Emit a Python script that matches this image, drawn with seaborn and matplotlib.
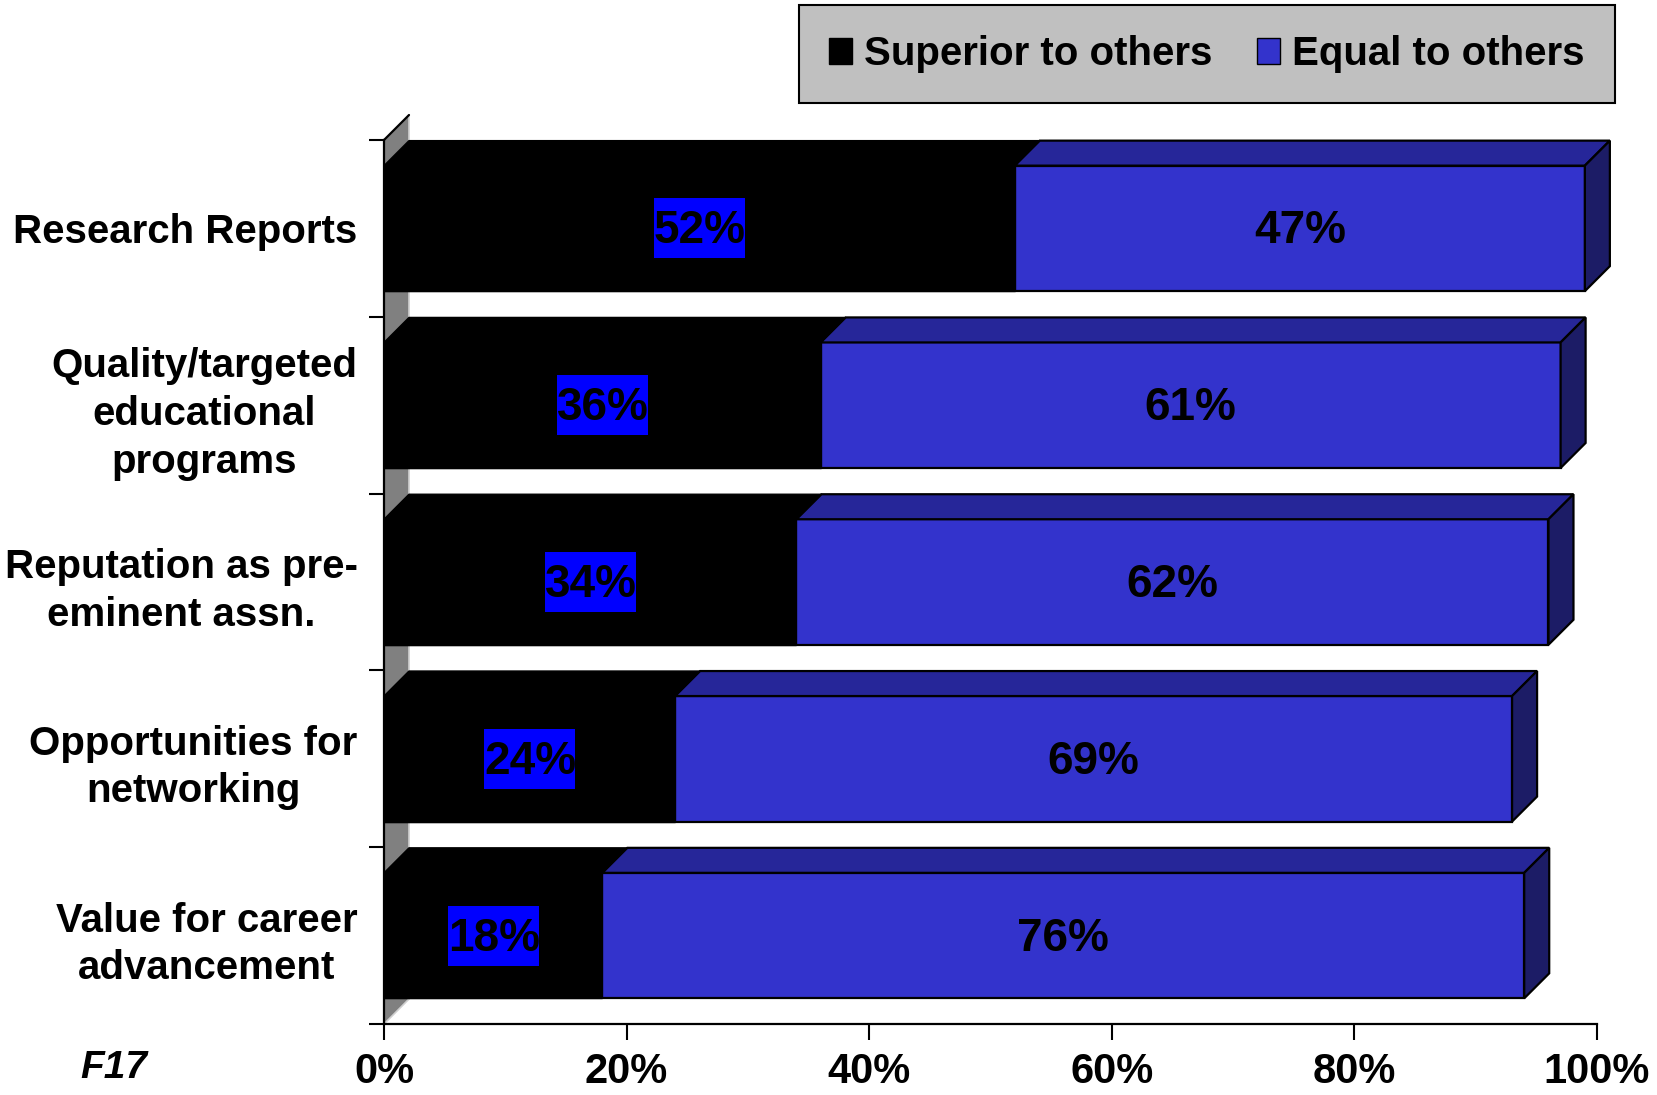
import matplotlib
matplotlib.use("Agg")
import matplotlib.pyplot as plt
import seaborn as sns
import pandas as pd
import numpy as np
from matplotlib.patches import Polygon, Patch, Rectangle

# ---- data ----
categories = [
    "Research Reports",
    "Quality/targeted\neducational\nprograms",
    "Reputation as pre-\neminent assn.",
    "Opportunities for\nnetworking",
    "Value for career\nadvancement",
]
superior = [52, 36, 34, 24, 18]
equal = [47, 61, 62, 69, 76]
series_names = ["Superior to others", "Equal to others"]
x_ticks = [0, 20, 40, 60, 80, 100]
x_tick_labels = ["0%", "20%", "40%", "60%", "80%", "100%"]
chart_code = "F17"

# ---- styling ----
sns.set_style("white")
plt.rcParams["font.family"] = ["Liberation Sans", "DejaVu Sans"]
plt.rcParams["font.weight"] = "bold"
for key in ["text.color", "axes.labelcolor", "xtick.color", "ytick.color"]:
    plt.rcParams[key] = "black"

BLUE_FRONT = "#3333CC"
BLUE_TOP = "#262699"
BLUE_SIDE = "#1C1C66"
WALL = "#808080"
LABEL_BG = "#0000FF"

W, H = 1658, 1095
fig = plt.figure(figsize=(W / 100, H / 100), dpi=100)
x_left, x_right = 384, 1597
y_top, y_bottom = 140, 1024
ax = fig.add_axes([x_left / W, 1 - y_bottom / H,
                   (x_right - x_left) / W, (y_bottom - y_top) / H])

df = pd.DataFrame({
    "category": categories,
    "superior": superior,
    "equal": equal,
})
df["total"] = df["superior"] + df["equal"]

bar_w = 0.71
# total (blue) first, superior (black) drawn over it
sns.barplot(data=df, y="category", x="total", orient="h", color=BLUE_FRONT,
            saturation=1, width=bar_w, edgecolor="black", linewidth=1.6,
            ax=ax, zorder=3)
n_blue = len(ax.patches)
sns.barplot(data=df, y="category", x="superior", orient="h", color="black",
            saturation=1, width=bar_w, edgecolor="black", linewidth=1.0,
            ax=ax, zorder=4)
blue_bars = ax.patches[:n_blue]
black_bars = ax.patches[n_blue:]

ax.set_xlim(0, 100)
ax.set_ylim(len(categories) - 0.5, -0.5)

# depth of the 3-D extrusion in data units
px_x = 100 / (x_right - x_left)
px_y = len(categories) / (y_bottom - y_top)
dx = 25 * px_x
dy = 25 * px_y

# left wall
n = len(categories)
wall = Polygon([(0, -0.5), (dx, -0.5 - dy), (dx, n - 0.5 - dy), (0, n - 0.5)],
               closed=True, facecolor=WALL, edgecolor="none", zorder=1,
               clip_on=False)
ax.add_patch(wall)
ax.plot([dx, dx], [-0.5 - dy, n - 0.5 - dy], color="#D0D0D0",
        lw=1.2, zorder=1.5, clip_on=False)
ax.plot([0, dx], [n - 0.5, n - 0.5 - dy],
        color="#D0D0D0", lw=1.2, zorder=1.5, clip_on=False)
ax.plot([0, dx], [-0.5, -0.5 - dy], color="black", lw=1.6, zorder=2,
        clip_on=False)

for bb, kb in zip(blue_bars, black_bars):
    yt = bb.get_y()
    yb = bb.get_y() + bb.get_height()
    x0 = kb.get_x() + kb.get_width()      # end of superior segment
    x1 = bb.get_x() + bb.get_width()      # end of total
    # black segment top face
    ax.add_patch(Polygon([(0, yt), (dx, yt - dy), (x0 + dx, yt - dy), (x0, yt)],
                         closed=True, facecolor="black", edgecolor="black",
                         lw=1.0, zorder=4, clip_on=False))
    # blue segment top face
    ax.add_patch(Polygon([(x0, yt), (x0 + dx, yt - dy), (x1 + dx, yt - dy), (x1, yt)],
                         closed=True, facecolor=BLUE_TOP, edgecolor="black",
                         lw=1.6, zorder=3, clip_on=False))
    # blue segment side face
    ax.add_patch(Polygon([(x1, yt), (x1 + dx, yt - dy), (x1 + dx, yb - dy), (x1, yb)],
                         closed=True, facecolor=BLUE_SIDE, edgecolor="black",
                         lw=1.6, zorder=3, clip_on=False))

# value labels
box_w = 91 * px_x
box_h = 60 * px_y
text_shift = 3 * px_y
for i, (s, e) in enumerate(zip(superior, equal)):
    bg = Rectangle((s / 2 - box_w / 2, i - box_h / 2), box_w, box_h,
                   facecolor=LABEL_BG, edgecolor="none", zorder=5)
    ax.add_patch(bg)
    t = ax.text(s / 2 - box_w / 2, i + text_shift, f"{s}%", ha="left",
                va="center", fontsize=33, fontweight="bold", color="black",
                zorder=6)
    t.set_clip_path(bg)
    ax.text(s + e / 2, i + text_shift, f"{e}%", ha="center", va="center",
            fontsize=33, fontweight="bold", color="black", zorder=6)

# axes, ticks and labels
ax.set_xlabel("")
ax.set_ylabel("")
ax.set_xticks(x_ticks)
ax.set_xticklabels(x_tick_labels, fontsize=30, fontweight="bold")
ax.set_yticks(range(n))
ax.set_yticklabels(categories, fontsize=29, fontweight="bold",
                   ha="right", multialignment="center", linespacing=1.32)
ax.set_yticks(np.arange(-0.5, n, 1), minor=True)
ax.tick_params(axis="y", which="major", left=False, length=0, pad=19)
ax.tick_params(axis="y", which="minor", left=True, length=11, width=1.5,
               direction="out", color="black")
ax.tick_params(axis="x", which="major", bottom=True, length=11.5, width=1.5,
               direction="out", color="black", pad=9)
for side in ["top", "right"]:
    ax.spines[side].set_visible(False)
for side in ["left", "bottom"]:
    ax.spines[side].set_color("black")
    ax.spines[side].set_linewidth(1.6)
    ax.spines[side].set_zorder(5)
ax.grid(False)
ax.set_facecolor("none")

# legend
handles = [Patch(facecolor="black", edgecolor="black", label=series_names[0]),
           Patch(facecolor=BLUE_FRONT, edgecolor="black", label=series_names[1])]
leg = fig.legend(handles=handles, loc="upper right",
                 bbox_to_anchor=(1615 / W, 1 - 5 / H), ncol=2,
                 prop=dict(family="Liberation Sans", weight="bold", size=29),
                 frameon=True, fancybox=False, framealpha=1,
                 facecolor="#C0C0C0", edgecolor="black",
                 handlelength=0.58, handleheight=0.58, handletextpad=0.3,
                 columnspacing=1.1, borderpad=0.75, borderaxespad=0)
leg.get_frame().set_linewidth(1.5)
for txt in leg.get_texts():
    txt.set_color("black")

fig.text(114 / W, 1 - 1068 / H, chart_code, ha="center", va="center",
         fontsize=28, fontweight="bold", fontstyle="italic")

fig.savefig("out.png", dpi=100)
